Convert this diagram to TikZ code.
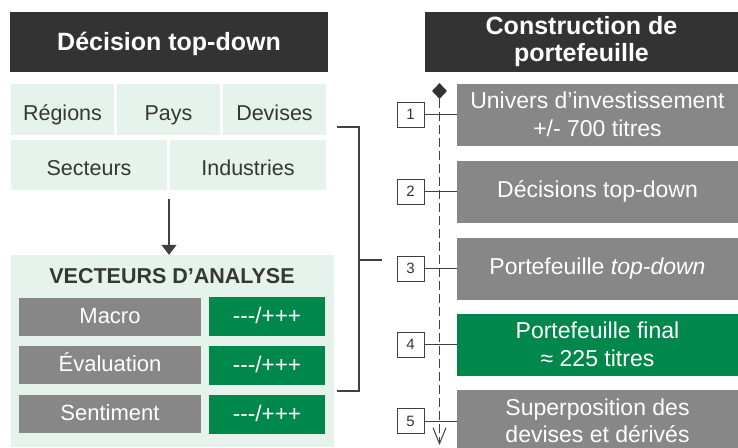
\documentclass[tikz,border=0pt]{standalone}
\usepackage{fontspec}
\setmainfont{Liberation Sans}
\usetikzlibrary{arrows.meta,shapes.geometric}
\definecolor{hdr}{HTML}{333333}
\definecolor{lgreen}{HTML}{E6F3EC}
\definecolor{boxgray}{HTML}{878787}
\definecolor{dgreen}{HTML}{00874B}
\definecolor{txt}{HTML}{363636}
\definecolor{linec}{HTML}{404040}
\tikzset{
  hdrbox/.style={fill=hdr, text=white, inner sep=0pt, align=center,
    font=\bfseries\fontsize{25}{27}\selectfont},
  lbox/.style={fill=lgreen, text=txt, inner sep=0pt, text height=21pt, text depth=0pt,
    font=\fontsize{21.5}{24}\selectfont},
  gbox/.style={fill=boxgray, text=white, inner sep=0pt, minimum width=182pt, minimum height=38pt,
    text height=14pt, text depth=2pt, font=\fontsize{22}{24}\selectfont},
  vbox/.style={fill=dgreen, text=white, inner sep=0pt, minimum width=116pt, minimum height=39pt,
    text height=14.5pt, text depth=1.5pt, font=\fontsize{22.5}{24}\selectfont},
  rbox/.style={fill=boxgray, text=white, inner sep=0pt, minimum width=281pt, minimum height=62pt,
    align=center, font=\fontsize{23}{28.5}\selectfont},
  rone/.style={text height=16pt, text depth=5pt},
  numbox/.style={draw=linec, line width=1pt, fill=white, text=txt, inner sep=0pt,
    minimum width=27pt, minimum height=25pt, font=\fontsize{15}{18}\selectfont},
  conn/.style={draw=linec, line width=1.4pt},
  tick/.style={draw=linec, line width=1pt}
}
\begin{document}
\begin{tikzpicture}[x=1pt,y=-1pt]
\path[use as bounding box] (0,0) rectangle (738,447);
% left header
\node[hdrbox, minimum width=318pt, minimum height=60pt, text height=20pt, text depth=4pt] (lh) at (169,42) {Décision top-down};
% categories
\node[lbox, minimum width=103pt, minimum height=51pt] (reg) at (62.5,109.5) {Régions};
\node[lbox, minimum width=103pt, minimum height=51pt] (pays) at (168.5,109.5) {Pays};
\node[lbox, minimum width=103pt, minimum height=51pt] (dev) at (274.5,109.5) {Devises};
\node[lbox, minimum width=156pt, minimum height=50pt] (sec) at (89,165) {Secteurs};
\node[lbox, minimum width=156pt, minimum height=50pt] (ind) at (248,165) {Industries};
% analysis box
\node[fill=lgreen, minimum width=323pt, minimum height=192pt, inner sep=0pt] (vec) at (172.5,351) {};
\node[text=txt, font=\bfseries\fontsize{21.5}{24}\selectfont, inner sep=0pt, anchor=base] (vect) at (172,283) {VECTEURS D’ANALYSE};
\node[gbox] (mac) at (110,317) {Macro};
\node[vbox] (v1) at (267,316.5) {-{}-{}-/+++};
\node[gbox] (eva) at (110,365) {Évaluation};
\node[vbox] (v2) at (267,365.5) {-{}-{}-/+++};
\node[gbox] (sen) at (110,414) {Sentiment};
\node[vbox] (v3) at (267,414.5) {-{}-{}-/+++};
% arrow
\coordinate (as) at (169,199);
\draw[conn, -{Triangle[length=10pt,width=15pt]}] (as) -- (vec.north -| as);
% bracket
\coordinate (b1) at (337,127);
\coordinate (b2) at (359,127);
\coordinate (b3) at (359,391);
\coordinate (b4) at (337,391);
\coordinate (bm) at (359,260);
\coordinate (bt) at (382,260);
\draw[conn] (b1) -- (b2) -- (b3) -- (b4);
\draw[conn] (bm) -- (bt);
% right header
\node[hdrbox, minimum width=313pt, minimum height=60pt] (rh) at (581.5,42) {Construction de\\portefeuille};
% right boxes
\node[rbox] (r1) at (597.5,114.5) {Univers d’investissement\\+/- 700 titres};
\node[rbox, rone] (r2) at (597.5,191.5) {Décisions top-down};
\node[rbox, rone] (r3) at (597.5,268.5) {Portefeuille \textit{top-down}};
\node[rbox, fill=dgreen] (r4) at (597.5,344.5) {Portefeuille final\\≈ 225 titres};
\node[rbox, font=\fontsize{23}{27.5}\selectfont] (r5) at (597.5,421) {Superposition des\\devises et dérivés};
% timeline
\node[diamond, fill=hdr, minimum width=15pt, minimum height=16pt, inner sep=0pt] (dia) at (439.5,91) {};
\coordinate (tend) at (439.5,445);
\draw[draw=linec, line width=1pt, dash pattern=on 9pt off 4pt, -{Straight Barb[length=16pt,width=13pt]}] (dia.south) -- (tend);
% numbers
\foreach \i/\y in {1/114.5,2/191.5,3/268.5,4/344.5,5/421}{
  \node[numbox] (n\i) at (410.5,\y) {\i};
  \draw[tick] (n\i.east) -- (r\i.west);
}
\end{tikzpicture}
\end{document}
